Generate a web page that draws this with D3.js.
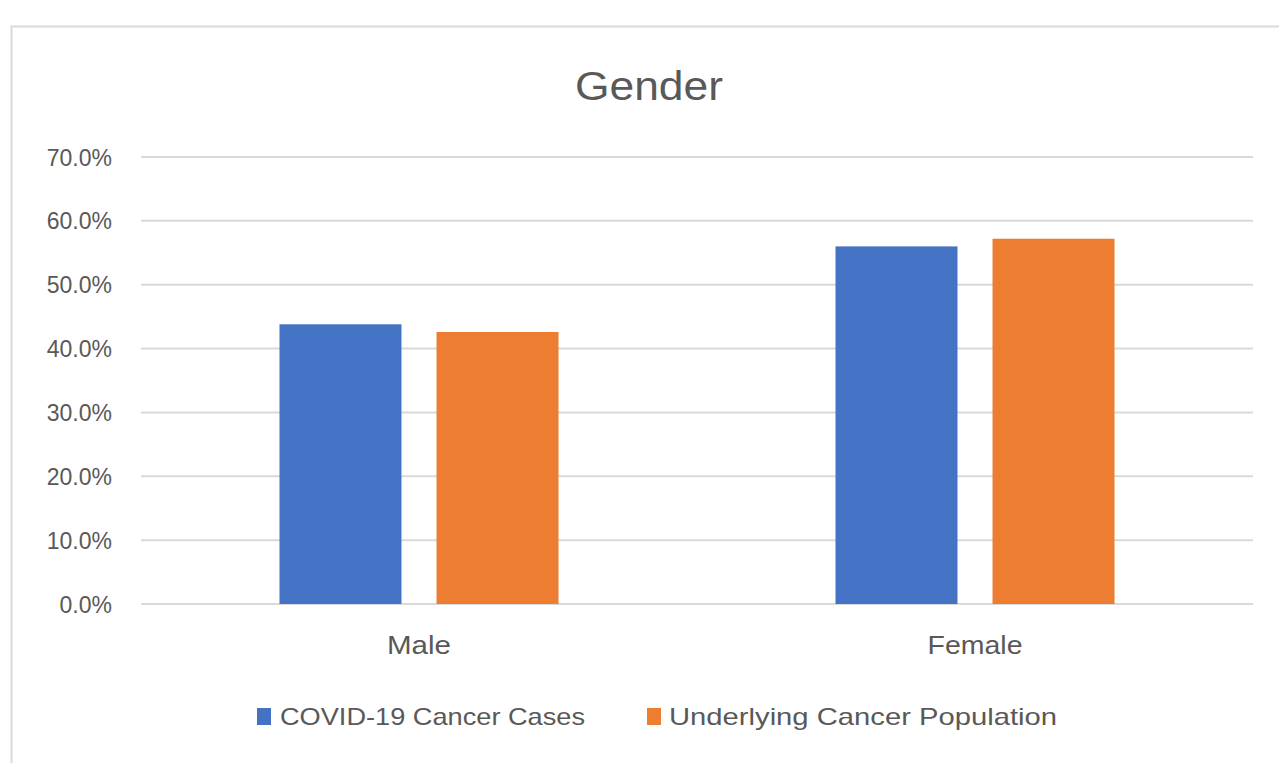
<!DOCTYPE html>
<html><head><meta charset="utf-8">
<script src="https://cdn.jsdelivr.net/npm/d3@7"></script>
<style>html,body{margin:0;padding:0;background:#fff;}svg{display:block;}</style>
</head><body>
<svg id="chart" width="1279" height="763"></svg>
<script>
const categories = ["Male", "Female"];
const seriesNames = ["COVID-19 Cancer Cases", "Underlying Cancer Population"];
const covidCases = [43.8, 56.0];
const underlyingPop = [42.6, 57.2];
const yTicks = [0, 10, 20, 30, 40, 50, 60, 70];
const colors = ["#4472C4", "#ED7D31"];

const svg = d3.select("#chart");
const W = 1279, H = 763;
const textColor = "#595959";
const font = "'Liberation Sans', Arial, sans-serif";

// chart border
svg.append("rect").attr("x", 11.5).attr("y", 26.5).attr("width", W).attr("height", H)
  .attr("fill", "#fff").attr("stroke", "#d9d9d9").attr("stroke-width", 2);

const plot = {left: 141, right: 1253, top: 157, bottom: 604};
const x = d3.scaleBand().domain(categories).range([plot.left, plot.right]).paddingInner(0).paddingOuter(0);
const x1 = d3.scaleBand().domain(seriesNames).range([0, x.bandwidth()]).paddingInner(0.223).paddingOuter(0.882);
const y = d3.scaleLinear().domain([0, 70]).range([plot.bottom, plot.top]);

// gridlines
svg.append("g").selectAll("line").data(yTicks).join("line")
  .attr("x1", plot.left).attr("x2", plot.right)
  .attr("y1", d => y(d)).attr("y2", d => y(d))
  .attr("stroke", "#d9d9d9").attr("stroke-width", 2);

// y axis labels
const yAxis = d3.axisLeft(y).tickValues(yTicks).tickFormat(d => d.toFixed(1) + "%").tickSize(0).tickPadding(0);
const yg = svg.append("g").attr("transform", `translate(112,0)`).call(yAxis);
yg.select(".domain").remove();
yg.selectAll("text").attr("fill", textColor).attr("font-family", font).attr("font-size", 23).attr("dy", "0.35em");

// bars
const data = categories.map((c, i) => ({cat: c, vals: [covidCases[i], underlyingPop[i]]}));
svg.append("g").selectAll("g").data(data).join("g")
  .attr("transform", d => `translate(${x(d.cat)},0)`)
  .selectAll("rect").data(d => d.vals.map((v, j) => ({name: seriesNames[j], v, j})))
  .join("rect")
  .attr("x", d => x1(d.name)).attr("width", x1.bandwidth())
  .attr("y", d => y(d.v)).attr("height", d => y(0) - y(d.v))
  .attr("fill", d => colors[d.j]);

// x axis labels
const catWidths = {"Male": 64, "Female": 95};
const xAxis = d3.axisBottom(x).tickSize(0).tickPadding(0);
const xg = svg.append("g").attr("transform", `translate(0,${plot.bottom + 50})`).call(xAxis);
xg.select(".domain").remove();
xg.selectAll("text").attr("fill", textColor).attr("font-family", font).attr("font-size", 26)
  .attr("dy", "0").attr("textLength", d => catWidths[d]).attr("lengthAdjust", "spacingAndGlyphs");

// title
svg.append("text").attr("x", 649).attr("y", 100).attr("text-anchor", "middle")
  .attr("fill", textColor).attr("font-family", font).attr("font-size", 41)
  .attr("textLength", 148).attr("lengthAdjust", "spacingAndGlyphs").text("Gender");

// legend
const legendItems = [
  {name: seriesNames[0], color: colors[0], sx: 257, tx: 280, tw: 305},
  {name: seriesNames[1], color: colors[1], sx: 647, tx: 669, tw: 388}
];
const lg = svg.append("g");
legendItems.forEach(d => {
  lg.append("rect").attr("x", d.sx).attr("y", 708).attr("width", 14).attr("height", 17).attr("fill", d.color);
  lg.append("text").attr("x", d.tx).attr("y", 725).attr("fill", textColor)
    .attr("font-family", font).attr("font-size", 24)
    .attr("textLength", d.tw).attr("lengthAdjust", "spacingAndGlyphs").text(d.name);
});
</script>
</body></html>
